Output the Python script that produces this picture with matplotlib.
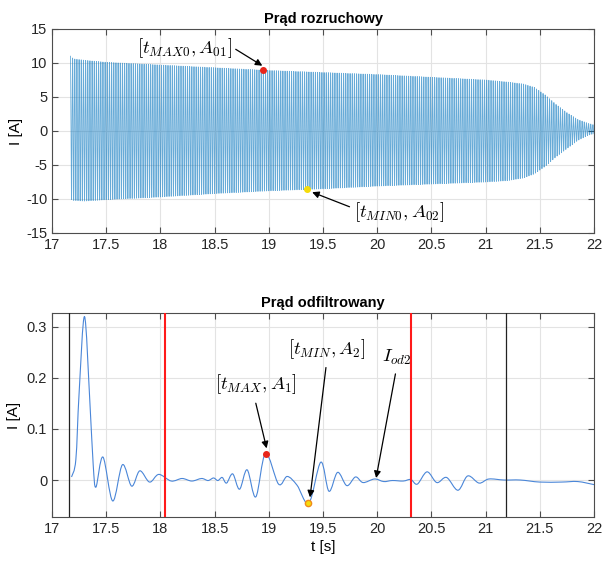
import numpy as np
import matplotlib
matplotlib.use("Agg")
import matplotlib.pyplot as plt
from matplotlib.path import Path
from matplotlib.patches import PathPatch

# ---------------- data ----------------
# Top: starting current, envelope of the 50 Hz oscillation
env_t = [17.17, 17.20, 17.30, 17.50, 18.00, 18.50, 19.00, 19.50, 20.00, 20.50,
         21.00, 21.20, 21.35, 21.45, 21.55, 21.65, 21.75, 21.85, 21.95, 22.00]
env_up = [11.0, 10.6, 10.4, 10.1, 9.7, 9.3, 8.9, 8.6, 8.3, 7.9,
          7.5, 7.2, 6.9, 6.4, 5.3, 3.9, 2.7, 1.7, 1.1, 0.9]
env_lo = [-10.0, -10.2, -10.3, -10.1, -9.7, -9.2, -8.8, -8.5, -8.1, -7.8,
          -7.5, -7.3, -6.9, -6.3, -5.2, -3.8, -2.6, -1.4, -0.6, -0.4]
MAINS_HZ = 50.0

max0 = (18.95, 8.9)
min0 = (19.35, -8.5)

# Bottom: filtered current (extrema and a few shape points)
filt_t = [17.18, 17.22, 17.25, 17.30, 17.35, 17.38, 17.405, 17.47, 17.56,
          17.65, 17.735, 17.81, 17.90, 17.985,
          18.10, 18.20, 18.29, 18.38, 18.44, 18.49, 18.53, 18.57, 18.61,
          18.667, 18.73, 18.80, 18.88, 18.97, 19.09, 19.17,
          19.26, 19.37, 19.48, 19.555, 19.635, 19.72, 19.80, 19.87, 19.975,
          20.06, 20.14, 20.24, 20.31, 20.37, 20.46, 20.55, 20.64, 20.745, 20.835,
          20.94, 21.03, 21.17, 21.32, 21.50, 21.70, 21.85, 22.00]
filt_v = [0.006, 0.040, 0.170, 0.320, 0.150, 0.030, -0.014, 0.045, -0.041,
          0.030, -0.012, 0.018, -0.004, 0.011,
          -0.002, 0.003, -0.002, 0.003, -0.001, 0.004, -0.001, 0.005, -0.006,
          0.012, -0.018, 0.020, -0.033, 0.052, -0.008, 0.007,
          -0.010, -0.045, 0.035, -0.022, 0.015, -0.011, 0.006, -0.005, 0.002,
          -0.003, -0.001, -0.002, 0.001, -0.008, 0.016, -0.005, 0.005, -0.020, 0.008,
          -0.006, 0.002, 0.000, 0.000, -0.004, -0.004, -0.003, -0.009]

max1 = (18.97, 0.051)
min2 = (19.36, -0.045)
red_lines = [18.04, 20.31]
black_lines = [17.157, 21.19]

x_ticks = [17, 17.5, 18, 18.5, 19, 19.5, 20, 20.5, 21, 21.5, 22]
x_ticklabels = ["17", "17.5", "18", "18.5", "19", "19.5", "20", "20.5", "21", "21.5", "22"]
top_yticks = [-15, -10, -5, 0, 5, 10, 15]
bot_yticks = [0, 0.1, 0.2, 0.3]

# ---------------- figure ----------------
plt.rcParams['font.family'] = ['Liberation Sans', 'DejaVu Sans']
plt.rcParams['mathtext.fontset'] = 'cm'
W, H = 607, 563
fig = plt.figure(figsize=(W / 100, H / 100), dpi=100)

def ax_rect(l, t, r, b):
    return [l / W, 1 - b / H, (r - l) / W, (b - t) / H]

ax1 = fig.add_axes(ax_rect(52, 29, 594, 233))
ax2 = fig.add_axes(ax_rect(52, 313, 594, 517))

BLUE = '#0072BD'
GRID = '#e3e3e3'
EDGE = '#4d4d4d'

def style(ax):
    ax.set_xlim(17, 22)
    ax.set_xticks(x_ticks)
    ax.set_xticklabels(x_ticklabels)
    ax.grid(True, color=GRID, lw=0.8)
    ax.set_axisbelow(True)
    ax.tick_params(direction='in', length=4, width=0.8, colors=EDGE,
                   labelcolor='#262626', labelsize=10.5, top=True, right=True)
    for s in ax.spines.values():
        s.set_color(EDGE)
        s.set_linewidth(0.8)

def smooth_path(xs, ys):
    """Catmull-Rom curve through the read points, as cubic Bezier segments."""
    p = np.column_stack([xs, ys]).astype(float)
    verts = [p[0]]
    codes = [Path.MOVETO]
    n = len(p)
    for i in range(n - 1):
        p0 = p[i - 1] if i > 0 else p[i]
        p1, p2 = p[i], p[i + 1]
        p3 = p[i + 2] if i + 2 < n else p[i + 1]
        c1 = p1 + (p2 - p0) / 6.0
        c2 = p2 - (p3 - p1) / 6.0
        verts += [c1, c2, p2]
        codes += [Path.CURVE4] * 3
    return Path(verts, codes)

# top
t = np.arange(env_t[0], 22.0, 1 / 2000)
up = np.interp(t, env_t, env_up)
lo = np.interp(t, env_t, env_lo)
mid = (up + lo) / 2
amp = (up - lo) / 2
sig = mid + amp * np.cos(2 * np.pi * MAINS_HZ * (t - env_t[0]))
ax1.plot(t, sig, color=BLUE, lw=0.6, alpha=0.6)
style(ax1)
ax1.set_ylim(-15, 15)
ax1.set_yticks(top_yticks)
ax1.set_yticklabels([str(v) for v in top_yticks])
ax1.set_ylabel('I [A]', fontsize=11, labelpad=2)
ax1.set_title('Prąd rozruchowy', fontsize=10.5, fontweight='bold', pad=4)
ax1.plot(*max0, 'o', color='#e8251a', ms=4, zorder=5)
ax1.plot(*min0, 'o', color='#f5dc0a', ms=4, zorder=5)
arrow = dict(arrowstyle='-|>', color='black', lw=0.9, mutation_scale=10)
ax1.annotate(r'$[t_{MAX0}, A_{01}]$', xy=(18.94, 9.6),
             xytext=(18.22, 12.2), fontsize=13.5, ha='center', va='center',
             arrowprops=dict(arrow, shrinkA=1, shrinkB=0, relpos=(1.0, 0.55)))
ax1.annotate(r'$[t_{MIN0}, A_{02}]$', xy=(19.40, -9.0),
             xytext=(20.2, -11.9), fontsize=13.5, ha='center', va='center',
             arrowprops=dict(arrow, shrinkA=1, shrinkB=0, relpos=(0.0, 0.65)))

# bottom
ax2.add_patch(PathPatch(smooth_path(filt_t, filt_v), facecolor='none',
                        edgecolor='#4a86d8', lw=0.8))
for x in red_lines:
    ax2.axvline(x, color='#ff1a1a', lw=1.5, zorder=4)
for x in black_lines:
    ax2.axvline(x, color='#222222', lw=0.9, zorder=4)
style(ax2)
ax2.set_ylim(-0.0724, 0.327)
ax2.set_yticks(bot_yticks)
ax2.set_yticklabels(['0', '0.1', '0.2', '0.3'])
ax2.set_ylabel('I [A]', fontsize=11, labelpad=4)
ax2.set_xlabel('t [s]', fontsize=11, labelpad=3)
ax2.set_title('Prąd odfiltrowany', fontsize=10.5, fontweight='bold', pad=4)
ax2.plot(*max1, 'o', color='#e8251a', ms=4, zorder=5)
ax2.plot(*min2, 'o', mfc='#f5dc0a', mec='#f08a1a', ms=4.5, zorder=5)
ax2.annotate(r'$[t_{MAX}, A_1]$', xy=(18.98, 0.062),
             xytext=(18.88, 0.187), fontsize=13.5, ha='center', va='center',
             arrowprops=dict(arrow, shrinkA=3, shrinkB=0, relpos=(0.48, 0.0)))
ax2.annotate(r'$[t_{MIN}, A_2]$', xy=(19.38, -0.034),
             xytext=(19.535, 0.257), fontsize=13.5, ha='center', va='center',
             arrowprops=dict(arrow, shrinkA=3, shrinkB=0, relpos=(0.5, 0.0)))
ax2.annotate(r'$I_{od2}$', xy=(19.99, 0.004),
             xytext=(20.18, 0.24), fontsize=13.5, ha='center', va='center',
             arrowprops=dict(arrow, shrinkA=3, shrinkB=0, relpos=(0.5, 0.0)))

fig.savefig('out.png', dpi=100, facecolor='white')
